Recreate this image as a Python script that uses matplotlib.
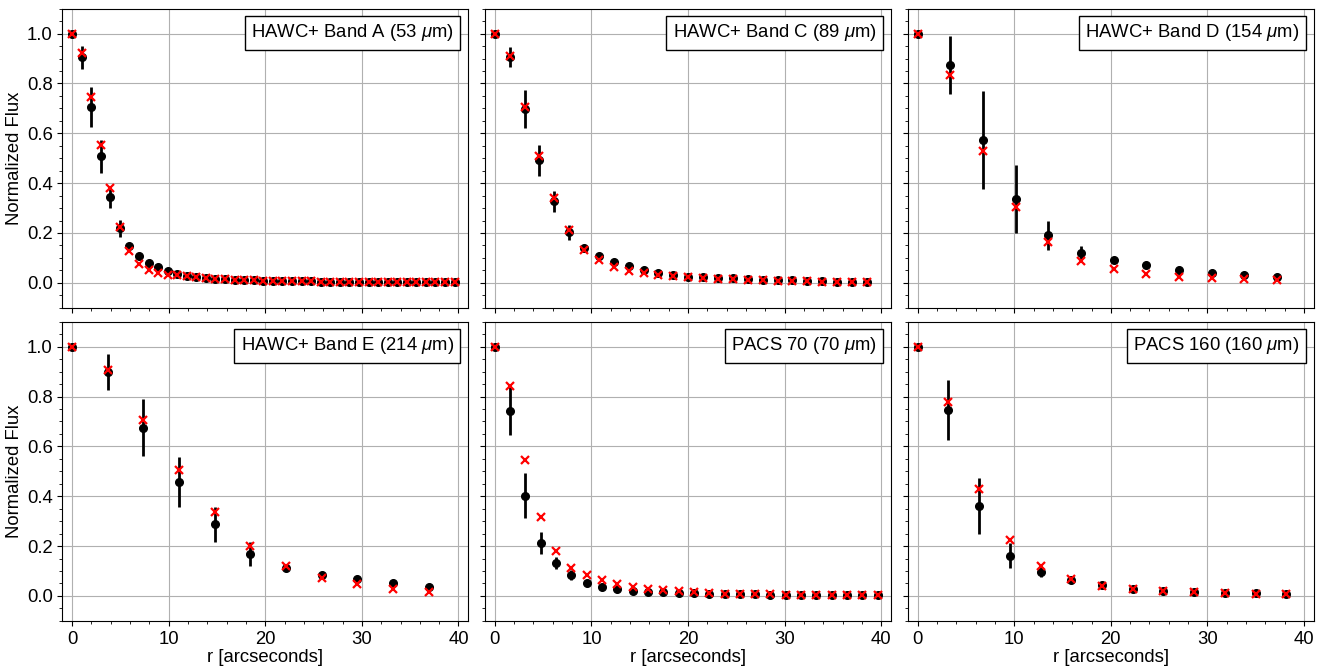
import numpy as np
import matplotlib.pyplot as plt

plt.rcParams['font.family'] = ['Liberation Sans', 'DejaVu Sans']
plt.rcParams['mathtext.fontset'] = 'custom'
plt.rcParams['mathtext.rm'] = 'Liberation Sans'
plt.rcParams['mathtext.it'] = 'Liberation Sans:italic'

# Band A
r_a = [0.0, 0.99, 1.98, 2.97, 3.96, 4.95, 5.94, 6.93, 7.92, 8.91, 9.9, 10.89, 11.88, 12.87,
       13.86, 14.85, 15.84, 16.83, 17.82, 18.81, 19.8, 20.79, 21.78, 22.77, 23.76, 24.75,
       25.74, 26.73, 27.72, 28.71, 29.7, 30.69, 31.68, 32.67, 33.66, 34.65, 35.64, 36.63,
       37.62, 38.61, 39.6]
obs_a = [1.0, 0.905, 0.705, 0.507, 0.344, 0.218, 0.149, 0.108, 0.080, 0.062, 0.047, 0.035,
         0.028, 0.023, 0.019, 0.016, 0.014, 0.012, 0.011, 0.010, 0.009, 0.008, 0.007, 0.007,
         0.006, 0.006, 0.005, 0.005, 0.005, 0.004, 0.004, 0.004, 0.004, 0.003, 0.003, 0.003,
         0.003, 0.003, 0.003, 0.002, 0.002]
err_a = [0.0, 0.045, 0.079, 0.067, 0.042, 0.033, 0.01, 0.008, 0.006, 0.005, 0.004, 0.003,
         0.003, 0.003, 0.002, 0.002, 0.002, 0.002, 0.002, 0.002, 0.002, 0.002, 0.002, 0.002,
         0.002, 0.002, 0.002, 0.002, 0.002, 0.002, 0.002, 0.002, 0.002, 0.002, 0.002, 0.002,
         0.002, 0.002, 0.002, 0.002, 0.002]
mod_a = [1.0, 0.922, 0.746, 0.554, 0.380, 0.224, 0.126, 0.075, 0.050, 0.039, 0.033, 0.030,
         0.026, 0.022, 0.019, 0.016, 0.014, 0.012, 0.011, 0.010, 0.009, 0.008, 0.007, 0.007,
         0.006, 0.006, 0.005, 0.005, 0.005, 0.004, 0.004, 0.004, 0.003, 0.003, 0.003, 0.003,
         0.003, 0.002, 0.002, 0.002, 0.002]

# Band C
r_c = [0.0, 1.54, 3.08, 4.62, 6.16, 7.7, 9.24, 10.78, 12.32, 13.86, 15.4, 16.94, 18.48,
       20.02, 21.56, 23.1, 24.64, 26.18, 27.72, 29.26, 30.8, 32.34, 33.88, 35.42, 36.96, 38.5]
obs_c = [1.0, 0.906, 0.697, 0.491, 0.327, 0.202, 0.138, 0.106, 0.083, 0.066, 0.051, 0.040,
         0.031, 0.024, 0.022, 0.020, 0.018, 0.016, 0.013, 0.012, 0.010, 0.008, 0.007, 0.005,
         0.004, 0.003]
err_c = [0.0, 0.04, 0.076, 0.063, 0.041, 0.032, 0.012, 0.008, 0.006, 0.005, 0.004, 0.004,
         0.003, 0.003, 0.003, 0.003, 0.003, 0.003, 0.003, 0.003, 0.003, 0.003, 0.003, 0.003,
         0.003, 0.003]
mod_c = [1.0, 0.91, 0.706, 0.51, 0.34, 0.21, 0.13, 0.090, 0.063, 0.049, 0.039, 0.032,
         0.028, 0.023, 0.020, 0.017, 0.015, 0.013, 0.011, 0.009, 0.008, 0.006, 0.005, 0.004,
         0.003, 0.002]

# Band D
r_d = [0.0, 3.38, 6.76, 10.14, 13.52, 16.9, 20.28, 23.66, 27.04, 30.42, 33.8, 37.18]
obs_d = [1.0, 0.874, 0.572, 0.336, 0.190, 0.120, 0.091, 0.071, 0.052, 0.039, 0.031, 0.025]
err_d = [0.0, 0.115, 0.197, 0.138, 0.06, 0.028, 0.008, 0.006, 0.005, 0.004, 0.004, 0.004]
mod_d = [1.0, 0.833, 0.530, 0.303, 0.165, 0.088, 0.054, 0.036, 0.025, 0.019, 0.016, 0.012]

# Band E
r_e = [0.0, 3.69, 7.38, 11.07, 14.76, 18.45, 22.14, 25.83, 29.52, 33.21, 36.9]
obs_e = [1.0, 0.898, 0.675, 0.457, 0.288, 0.167, 0.110, 0.083, 0.066, 0.052, 0.037]
err_e = [0.0, 0.072, 0.115, 0.1, 0.07, 0.048, 0.012, 0.006, 0.005, 0.004, 0.004]
mod_e = [1.0, 0.906, 0.706, 0.505, 0.337, 0.200, 0.122, 0.071, 0.046, 0.028, 0.017]

# PACS 70
r_p70 = [0.0, 1.585, 3.17, 4.755, 6.34, 7.925, 9.51, 11.095, 12.68, 14.265, 15.85, 17.435,
         19.02, 20.605, 22.19, 23.775, 25.36, 26.945, 28.53, 30.115, 31.7, 33.285, 34.87,
         36.455, 38.04, 39.625]
obs_p70 = [1.0, 0.744, 0.402, 0.212, 0.133, 0.085, 0.052, 0.036, 0.027, 0.021, 0.017, 0.015,
           0.012, 0.011, 0.009, 0.008, 0.007, 0.006, 0.005, 0.005, 0.004, 0.004, 0.003,
           0.003, 0.003, 0.003]
err_p70 = [0.0, 0.1, 0.09, 0.043, 0.025, 0.02, 0.008, 0.005, 0.004, 0.003, 0.003, 0.003,
           0.002, 0.002, 0.002, 0.002, 0.002, 0.002, 0.002, 0.002, 0.002, 0.002, 0.002,
           0.002, 0.002, 0.002]
mod_p70 = [1.0, 0.841, 0.546, 0.316, 0.181, 0.113, 0.085, 0.065, 0.048, 0.037, 0.029, 0.023,
           0.019, 0.015, 0.011, 0.009, 0.008, 0.007, 0.006, 0.005, 0.004, 0.004, 0.003,
           0.003, 0.003, 0.003]

# PACS 160
r_p160 = [0.0, 3.18, 6.36, 9.54, 12.72, 15.9, 19.08, 22.26, 25.44, 28.62, 31.8, 34.98, 38.16]
obs_p160 = [1.0, 0.746, 0.360, 0.161, 0.095, 0.064, 0.042, 0.028, 0.021, 0.016, 0.013,
            0.010, 0.008]
err_p160 = [0.0, 0.12, 0.113, 0.05, 0.021, 0.008, 0.006, 0.005, 0.004, 0.004, 0.003,
            0.003, 0.003]
mod_p160 = [1.0, 0.779, 0.431, 0.223, 0.121, 0.069, 0.040, 0.027, 0.018, 0.014, 0.011,
            0.009, 0.007]

titles = ["HAWC+ Band A (53 $\\mu$m)", "HAWC+ Band C (89 $\\mu$m)",
          "HAWC+ Band D (154 $\\mu$m)", "HAWC+ Band E (214 $\\mu$m)",
          "PACS 70 (70 $\\mu$m)", "PACS 160 (160 $\\mu$m)"]
rs = [r_a, r_c, r_d, r_e, r_p70, r_p160]
obs = [obs_a, obs_c, obs_d, obs_e, obs_p70, obs_p160]
errs = [err_a, err_c, err_d, err_e, err_p70, err_p160]
mods = [mod_a, mod_c, mod_d, mod_e, mod_p70, mod_p160]

fig, axes = plt.subplots(2, 3, figsize=(13.27, 6.69), dpi=100, sharex=True, sharey=True)
fig.subplots_adjust(left=0.047, right=0.99, top=0.987, bottom=0.072, wspace=0.042, hspace=0.047)

for i, ax in enumerate(axes.flat):
    ax.grid(True, color='#b0b0b0', lw=0.8, zorder=0)
    ax.set_axisbelow(True)
    ax.errorbar(rs[i], obs[i], yerr=errs[i], fmt='o', color='black', ms=5.5,
                elinewidth=2, capsize=0, zorder=2)
    ax.plot(rs[i], mods[i], 'x', color='red', ms=5.5, mew=1.6, zorder=3)
    ax.text(0.965, 0.955, titles[i], transform=ax.transAxes, ha='right', va='top',
            fontsize=13.3, bbox=dict(boxstyle='square,pad=0.35', fc='white', ec='black'),
            zorder=5)
    ax.minorticks_on()
    ax.tick_params(labelsize=13.3)

axes[0, 0].set_xlim(-1, 41)
axes[0, 0].set_ylim(-0.1, 1.1)
axes[0, 0].set_yticks([0.0, 0.2, 0.4, 0.6, 0.8, 1.0])
axes[0, 0].set_xticks([0, 10, 20, 30, 40])

for ax in axes[:, 0]:
    ax.set_ylabel('Normalized Flux', fontsize=13.3, labelpad=3)
for ax in axes[1, :]:
    ax.set_xlabel('r [arcseconds]', fontsize=13.3, labelpad=1)

plt.savefig("out.png")
